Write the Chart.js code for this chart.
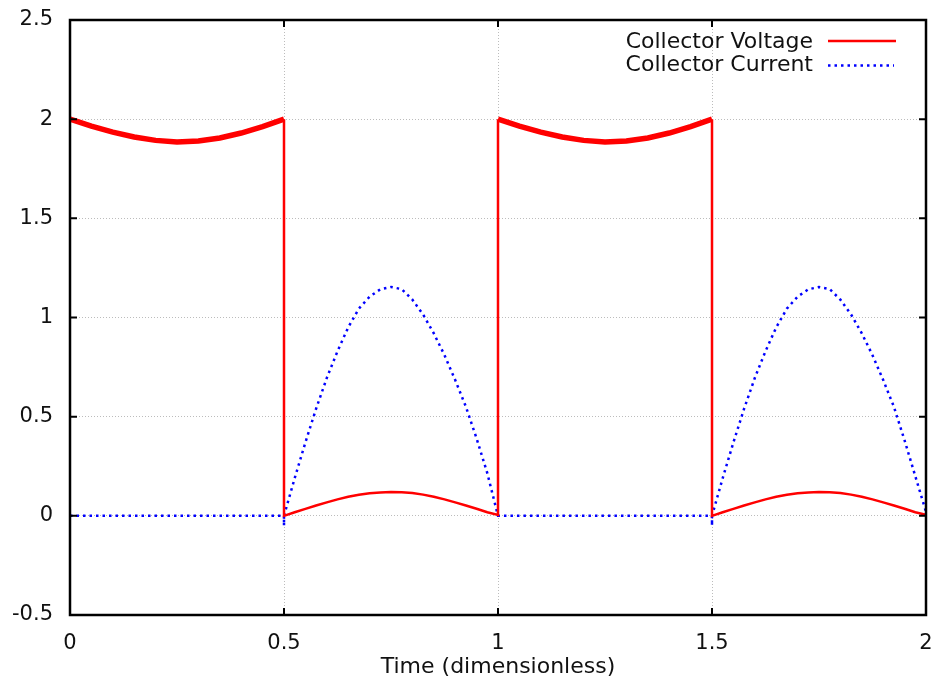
<!DOCTYPE html>
<html>
<head>
<meta charset="utf-8">
<script src="https://cdn.jsdelivr.net/npm/chart.js@4.4.0/dist/chart.umd.min.js"></script>
<style>
    body { margin: 0; background: #fff; }
    canvas { display: block; }
</style>
</head>
<body>
<canvas id="chart" width="936" height="692"></canvas>
<script>
    "use strict";

    // Collector voltage (time, value)
    var voltTime = [
        0, 0.05, 0.1, 0.15, 0.2, 0.25, 0.3, 0.35, 0.4, 0.45, 0.5,
        0.5, 0.525, 0.55, 0.575, 0.6, 0.625, 0.65, 0.675, 0.7, 0.725, 0.75,
        0.775, 0.8, 0.825, 0.85, 0.875, 0.9, 0.925, 0.95, 0.975, 1.0,
        1.0, 1.05, 1.1, 1.15, 1.2, 1.25, 1.3, 1.35, 1.4, 1.45, 1.5,
        1.5, 1.525, 1.55, 1.575, 1.6, 1.625, 1.65, 1.675, 1.7, 1.725, 1.75,
        1.775, 1.8, 1.825, 1.85, 1.875, 1.9, 1.925, 1.95, 1.975, 2.0
    ];
    var voltage = [
        2.0, 1.965, 1.935, 1.91, 1.893, 1.885, 1.89, 1.905, 1.93, 1.962, 2.0,
        0, 0.018, 0.035, 0.052, 0.068, 0.083, 0.096, 0.106, 0.114, 0.118, 0.12,
        0.119, 0.115, 0.107, 0.096, 0.083, 0.068, 0.052, 0.036, 0.018, 0.005,
        2.0, 1.965, 1.935, 1.91, 1.893, 1.885, 1.89, 1.905, 1.93, 1.962, 2.0,
        0, 0.018, 0.035, 0.052, 0.068, 0.083, 0.096, 0.106, 0.114, 0.118, 0.12,
        0.119, 0.115, 0.107, 0.096, 0.083, 0.068, 0.052, 0.036, 0.018, 0.005
    ];

    // Collector current (time, value)
    var currTime = [
        0, 0.5, 0.5, 0.5,
        0.525, 0.55, 0.575, 0.6, 0.625, 0.65, 0.675, 0.7, 0.725, 0.75,
        0.775, 0.8, 0.825, 0.85, 0.875, 0.9, 0.925, 0.95, 0.975, 1.0,
        1.5, 1.5, 1.5,
        1.525, 1.55, 1.575, 1.6, 1.625, 1.65, 1.675, 1.7, 1.725, 1.75,
        1.775, 1.8, 1.825, 1.85, 1.875, 1.9, 1.925, 1.95, 1.975, 2.0
    ];
    var current = [
        0, 0, -0.05, 0,
        0.19, 0.37, 0.54, 0.695, 0.83, 0.95, 1.045, 1.105, 1.142, 1.154,
        1.143, 1.09, 1.015, 0.92, 0.81, 0.685, 0.55, 0.39, 0.215, 0,
        0, -0.05, 0,
        0.19, 0.37, 0.54, 0.695, 0.83, 0.95, 1.045, 1.105, 1.142, 1.154,
        1.143, 1.09, 1.015, 0.92, 0.81, 0.685, 0.55, 0.38, 0.2, 0.02
    ];

    var xTicks = [0, 0.5, 1, 1.5, 2];
    var yTicks = [-0.5, 0, 0.5, 1, 1.5, 2, 2.5];
    var seriesNames = ["Collector Voltage", "Collector Current"];

    var FONT = "'DejaVu Sans', sans-serif";
    var INK = "#111";

    function toPoints(xs, ys) {
        return xs.map(function (x, i) { return { x: x, y: ys[i] }; });
    }

    // gnuplot style frame with mirrored inward ticks, plus the key
    var framePlugin = {
        id: "frame",
        afterDatasetsDraw: function (chart) {
            var ctx = chart.ctx;
            var sx = chart.scales.x, sy = chart.scales.y;
            // frame follows the scales themselves
            var L = sx.getPixelForValue(xTicks[0]);
            var R = sx.getPixelForValue(xTicks[xTicks.length - 1]);
            var B = sy.getPixelForValue(yTicks[0]);
            var T = sy.getPixelForValue(yTicks[yTicks.length - 1]);
            var len = 7;
            ctx.save();
            ctx.strokeStyle = "#000";
            ctx.lineWidth = 2;
            xTicks.forEach(function (v) {
                var px = sx.getPixelForValue(v);
                ctx.beginPath();
                ctx.moveTo(px, B); ctx.lineTo(px, B - len);
                ctx.moveTo(px, T); ctx.lineTo(px, T + len);
                ctx.stroke();
            });
            yTicks.forEach(function (v) {
                var py = sy.getPixelForValue(v);
                ctx.beginPath();
                ctx.moveTo(L, py); ctx.lineTo(L + len, py);
                ctx.moveTo(R, py); ctx.lineTo(R - len, py);
                ctx.stroke();
            });
            ctx.lineWidth = 2.5;
            ctx.strokeRect(L, T, R - L, B - T);

            // key
            ctx.font = "22px " + FONT;
            ctx.fillStyle = INK;
            ctx.textAlign = "right";
            ctx.textBaseline = "middle";
            ctx.fillText(seriesNames[0], 813, 42);
            ctx.fillText(seriesNames[1], 813, 65);
            ctx.lineWidth = 2.5;
            ctx.strokeStyle = "#ff0000";
            ctx.beginPath(); ctx.moveTo(828, 41); ctx.lineTo(896, 41); ctx.stroke();
            ctx.strokeStyle = "#0000ff";
            ctx.setLineDash([2.5, 4]);
            ctx.beginPath(); ctx.moveTo(828, 65.5); ctx.lineTo(894, 65.5); ctx.stroke();
            ctx.restore();
        }
    };

    var chart = new Chart(document.getElementById("chart"), {
        type: "line",
        data: {
            datasets: [{
                label: seriesNames[0],
                data: toPoints(voltTime, voltage),
                borderColor: "#ff0000",
                borderWidth: 2.5,
                pointRadius: 0,
                tension: 0,
                segment: {
                    borderWidth: function (c) {
                        return (c.p0.parsed.y > 1.5 && c.p1.parsed.y > 1.5) ? 5.5 : 2.5;
                    }
                }
            }, {
                label: seriesNames[1],
                data: toPoints(currTime, current),
                borderColor: "#0000ff",
                borderWidth: 2.5,
                borderDash: [2.5, 4],
                pointRadius: 0,
                tension: 0
            }]
        },
        options: {
            responsive: false,
            animation: false,
            layout: { padding: { left: 0, right: 10, top: 20, bottom: 0 } },
            plugins: {
                legend: { display: false },
                tooltip: { enabled: false }
            },
            scales: {
                x: {
                    type: "linear",
                    min: 0,
                    max: 2,
                    ticks: {
                        stepSize: 0.5,
                        padding: 16,
                        color: INK,
                        font: { family: FONT, size: 21 },
                        maxRotation: 0,
                        callback: function (v) { return String(v); }
                    },
                    grid: { color: "#bcbcbc", lineWidth: 1, drawTicks: false },
                    border: { display: false, dash: [1, 2] },
                    title: {
                        display: true,
                        text: "Time (dimensionless)",
                        color: INK,
                        font: { family: FONT, size: 22 },
                        padding: { top: 0, bottom: 12 }
                    },
                    afterFit: function (scale) {
                        scale.height = 77;
                        scale.paddingLeft = 0;
                        scale.paddingRight = 0;
                    }
                },
                y: {
                    min: -0.5,
                    max: 2.5,
                    ticks: {
                        stepSize: 0.5,
                        padding: 17,
                        color: INK,
                        font: { family: FONT, size: 21 },
                        callback: function (v) { return String(v); }
                    },
                    grid: { color: "#bcbcbc", lineWidth: 1, drawTicks: false },
                    border: { display: false, dash: [1, 2] },
                    afterFit: function (scale) {
                        scale.width = 70;
                        scale.paddingTop = 0;
                        scale.paddingBottom = 0;
                    }
                }
            }
        },
        plugins: [framePlugin]
    });
</script>
</body>
</html>
